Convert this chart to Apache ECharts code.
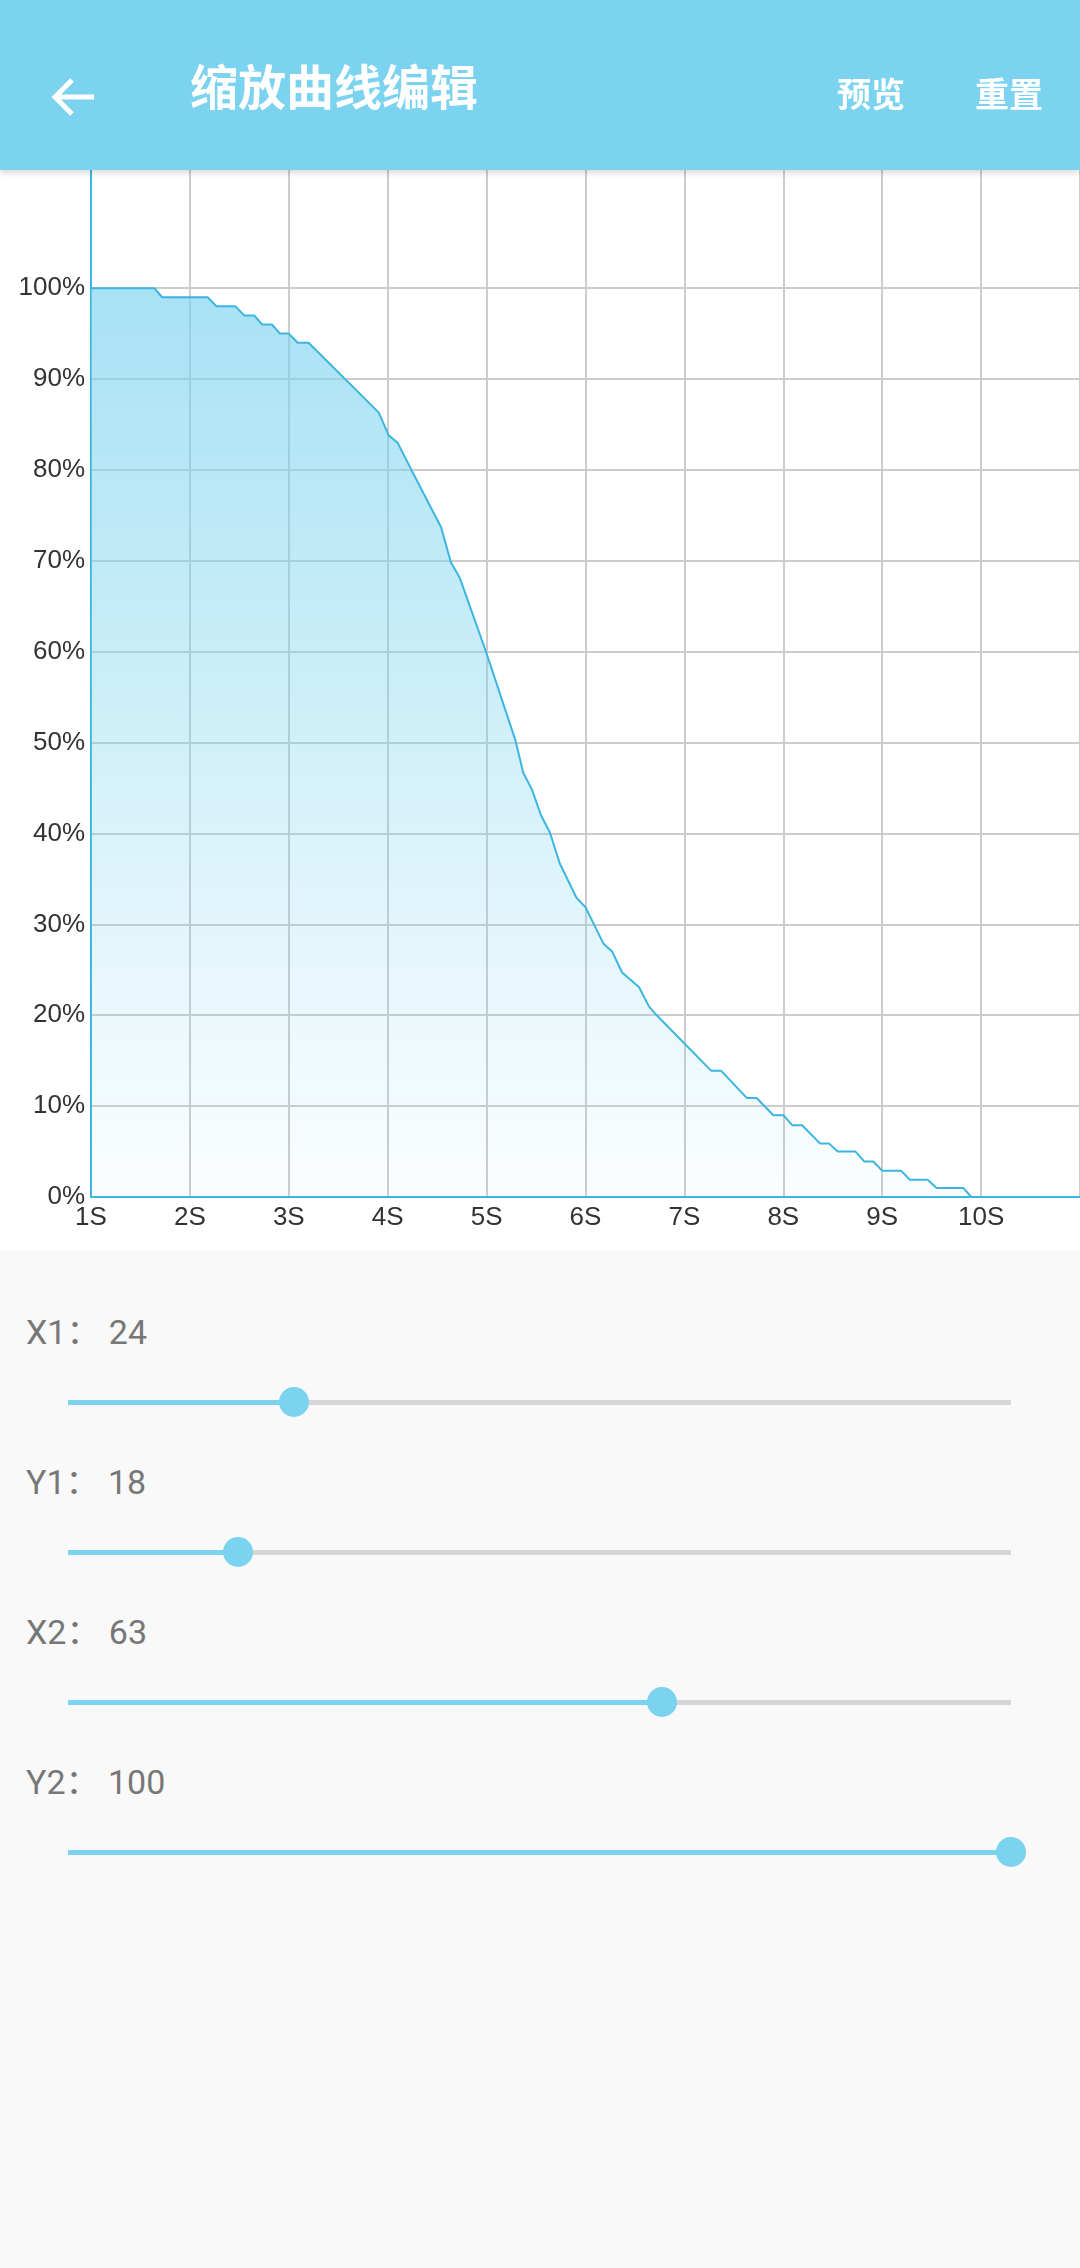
<!DOCTYPE html>
<html><head><meta charset="utf-8">
<script src="https://cdn.jsdelivr.net/npm/echarts@6/dist/echarts.min.js"></script>
<style>
html,body{margin:0;padding:0;width:1080px;height:2268px;background:#f9f9f9;font-family:Roboto,"Noto Sans CJK SC",sans-serif;overflow:hidden}
#hdr{position:absolute;left:0;top:0;width:1080px;height:170px;background:#7bd3ef;box-shadow:0 3px 6px rgba(0,0,0,0.15);z-index:2;color:#fff}
#hdr .t{position:absolute;left:190px;top:60px;font-size:48px;font-weight:bold;font-family:"Noto Sans CJK SC";line-height:1}
#hdr .b{position:absolute;top:76px;font-size:34px;font-weight:bold;font-family:"Noto Sans CJK SC";line-height:1}
#chart{position:absolute;left:0;top:170px;width:1080px;height:1080px;background:#fff}
.lbl{position:absolute;left:26px;font-size:34px;color:#777;font-family:Roboto,"Noto Sans CJK SC"}
.trk{position:absolute;left:68px;width:943px;height:5px;background:#d6d6d6}
.act{position:absolute;left:0;top:0;height:5px;background:#7bd3ef}
.th{position:absolute;top:-13px;width:30px;height:30px;border-radius:15px;background:#7bd3ef;margin-left:-15px}
</style></head><body>
<div id="hdr">
<svg style="position:absolute;left:50px;top:76px" width="46" height="42" viewBox="0 0 46 42"><path d="M44 21H6M22 4L5 21l17 17" stroke="#fff" stroke-width="5" fill="none"/></svg>
<div class="t">缩放曲线编辑</div>
<div class="b" style="left:837px">预览</div>
<div class="b" style="left:975px">重置</div>
</div>
<div id="chart"></div>
<div id="sliders"></div>
<script>
const timeS = [1,1.64,1.72,2.18,2.27,2.46,2.55,2.65,2.73,2.83,2.91,3.0,3.09,3.2,3.91,4.01,4.10,4.24,4.54,4.64,4.73,5.0,5.29,5.37,5.46,5.55,5.64,5.74,5.91,6.0,6.18,6.27,6.37,6.54,6.64,6.71,7.27,7.37,7.63,7.73,7.90,8.0,8.09,8.19,8.37,8.46,8.55,8.73,8.82,8.91,9.0,9.19,9.28,9.46,9.55,9.82,9.9,11];
const scalePct = [100,100,99,99,98,98,97,97,96,96,95,95,94,94,86.3,83.8,83,80,73.7,69.8,68.1,59.8,50.3,46.7,44.8,42,40.1,36.7,32.9,31.9,27.9,27,24.7,23.1,21,20.1,13.9,13.9,10.9,10.9,9,9,7.9,7.9,5.9,5.9,5,5,3.9,3.9,2.9,2.9,1.9,1.9,1,1,0,0];
const xTicks = ['1S','2S','3S','4S','5S','6S','7S','8S','9S','10S'];
const sliderNames = ['X1','Y1','X2','Y2'];
const sliderValues = [24,18,63,100];

const grey='#cccccc';
const splitColors=[];for(let i=0;i<=10;i++)splitColors.push(grey);splitColors.push('rgba(0,0,0,0)');splitColors.push('rgba(0,0,0,0)');
const c=echarts.init(document.getElementById('chart'));
c.setOption({
 animation:false,
 grid:{left:91,right:0,top:0,height:1027},
 xAxis:{type:'value',min:1,max:11,interval:1,
  axisLine:{lineStyle:{color:'#3cb5e0',width:2}},axisTick:{show:false},
  axisLabel:{color:'#333',fontSize:26,margin:8,showMaxLabel:false,formatter:v=>xTicks[v-1]||''},
  splitLine:{show:true,lineStyle:{color:grey,width:2}}},
 yAxis:{type:'value',min:0,max:113,interval:10,
  axisLine:{show:true,lineStyle:{color:'#3cb5e0',width:2}},axisTick:{show:false},
  axisLabel:{color:'#333',fontSize:26,margin:6,formatter:v=>v<=100?v+'%':''},
  splitLine:{show:true,lineStyle:{color:splitColors,width:2}}},
 series:[{type:'line',symbol:'none',data:timeS.map((t,i)=>[t,scalePct[i]]),
  lineStyle:{color:'#3cb5e0',width:2},
  areaStyle:{color:new echarts.graphic.LinearGradient(0,0,0,1,[{offset:0,color:'rgba(123,211,239,0.95)'},{offset:1,color:'rgba(123,211,239,0.04)'}])}}]
});
const sc=document.getElementById('sliders');
sliderNames.forEach((n,i)=>{
 const y=1327+i*150;
 const l=document.createElement('div');l.className='lbl';l.style.top=(y-22)+'px';l.textContent=n+'： '+sliderValues[i];sc.appendChild(l);
 const t=document.createElement('div');t.className='trk';t.style.top=(y+73)+'px';
 const p=sliderValues[i]/100*943;
 t.innerHTML='<div class="act" style="width:'+p+'px"></div><div class="th" style="left:'+p+'px"></div>';
 sc.appendChild(t);
});
</script>
</body></html>
